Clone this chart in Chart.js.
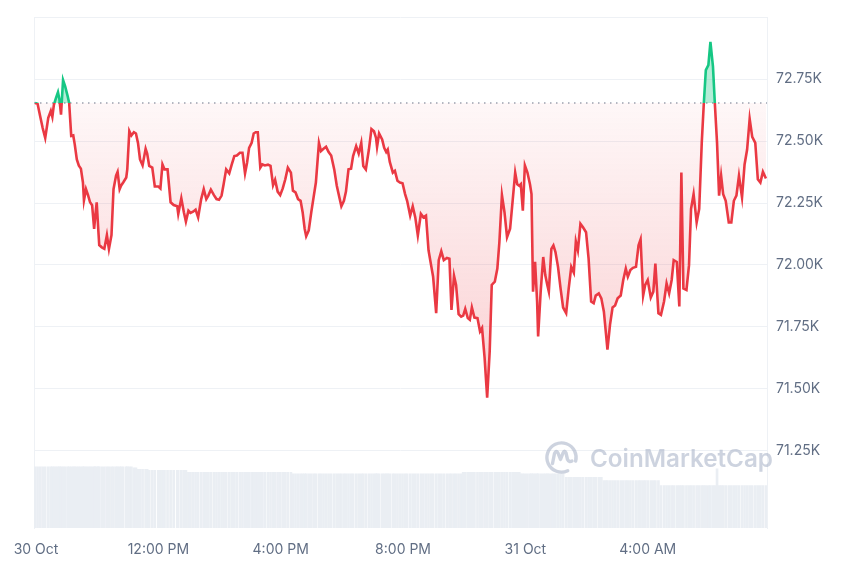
<!DOCTYPE html>
<html><head><meta charset="utf-8">
<script src="https://cdn.jsdelivr.net/npm/chart.js@4.4.1/dist/chart.umd.min.js"></script>
<style>html,body{margin:0;padding:0;background:#fff;}canvas{display:block;}</style>
</head><body>
<canvas id="c" width="860" height="573"></canvas>
<script>
// Opening price of the 24h window (dotted reference line), USD
const openPrice = 72654;

// Minutes since 30 Oct 08:00
const times = [
-2,3,8,13,18,24,29,32,35,39, 43,46,49,53,57,62,65,69,73,76,
80,84,88,92,94,98,102,106,110,114, 116,119,122,124,129,134,139,143,148,152,
157,160,164,167,171,177,179,183,187,192, 196,200,204,209,215,218,222,228,233,240,
244,248,252,258,264,270,277,279,285,290, 294,299,303,308,313,318,324,329,334,338,
343,349,354,359,364,368,373,379,384,389, 394,400,405,410,414,418,423,427,431,435,
440,444,449,455,460,465,469,474,479,
484,489,494,500,504,509,514,519,523,527, 530,535,540,545,549,555,559,564,569,574,
579,585,590,595,599,604,608,613,618,622, 628,633,638,642,647,653,658,663,667,669,
673,679,683,687,690,694,700,704,709,714, 719,
724,728,734,739,744,749,755,760,765,770, 775,779,785,790,795,800,806,811,815,820,
824,829,834,838,842,847,851,855,860,866, 871,875,880,885,890,894,900,905,909,914,
919,924,930,935,940,944,948,951,955,959, 964,969,972,
975,979,983,985,990,995,999,1003,1006,1011, 1015,1019,1024,1029,1034,1040,1045,1050,1055,1059,
1063,1068,1073,1079,1084,1089,1094,1098,1104,1109, 1114,1118,1121,1126,1131,1136,1141,1147,1152,1157,
1161,1166,1171,1177,1182,1186,
1191,1195,1200,1206,1211,1215,1221,1226,1232,1237, 1242,1247,1251,1257,1262,1266,1270,1276,1281,1285,
1290,1296,1301,1306,1310,1314,1319,1323,1328,1332, 1336,1340,1344,1348,1353,1359,1364,1369,1374,1379,
1385,1390,1395,1400,1405,1411,1416,1421,1426,1432
];

// BTC price, USD
const prices = [
72654,72651,72602,72553,72513,72594,72622,72598,72647,72674,
72698,72667,72607,72747,72722,72682,72654,72521,72523,72486,
72426,72401,72389,72333,72261,72306,72282,72253,72241,72146,
72193,72253,72146,72080,72071,72065,72120,72064,72120,72306,
72361,72376,72306,72321,72333,72353,72386,72541,72523,72536,
72531,72493,72426,72402,72469,72450,72400,72393,72317,72317,
72309,72406,72386,72386,72253,72242,72237,72206,72269,72213,
72175,72219,72210,72215,72223,72192,72266,72306,72266,72280,
72304,72282,72266,72263,72280,72326,72386,72370,72406,72440,
72442,72453,72453,72370,72413,72473,72493,72531,72536,72536,
72393,72406,72402,72405,72400,72322,72344,72296,72282,
72309,72346,72393,72373,72300,72293,72266,72259,72213,72146,
72116,72139,72213,72280,72333,72493,72460,72469,72477,72456,
72442,72386,72320,72273,72237,72259,72296,72386,72389,72440,
72480,72450,72493,72400,72386,72466,72549,72540,72513,72477,
72531,72507,72473,72456,72466,72416,72373,72380,72340,72333,
72330,
72286,72259,72199,72237,72192,72119,72206,72192,72199,72059,
71999,71952,71805,72019,72055,72019,72028,72025,71818,71956,
71919,71801,71791,71795,71822,71785,71778,71828,71787,71785,
71731,71745,71624,71464,71651,71919,71932,71985,72092,72282,
72213,72112,72146,72259,72373,72326,72320,72326,72219,72402,
72373,72326,72286,
71892,72012,71852,71711,71892,72032,71959,71919,71892,72065,
72079,72052,71992,71905,71828,71805,71905,71992,71969,72095,
72059,72166,72152,72132,72025,71852,71845,71876,71885,71865,
71811,71724,71658,71758,71828,71836,71865,71876,71939,71985,
71952,71979,71988,71992,72079,72103,
71876,71919,71939,71868,71892,72005,71805,71798,71852,71925,
71885,71939,72019,72012,71832,72373,71905,71899,71999,72226,
72286,72172,72226,72493,72651,72787,72807,72901,72801,72640,
72493,72280,72360,72286,72259,72172,72172,72259,72280,72360,
72273,72406,72466,72590,72517,72493,72346,72333,72376,72349
];

// 24h volume, billions USD (one per price point)
const volumes = [
36.0,36.0,36.0,36.0,36.0,36.0,36.0,36.0,36.0,36.0,
36.0,36.0,36.0,36.0,36.0,36.0,36.0,36.0,36.0,36.0,
36.0,36.0,36.0,36.0,36.0,36.0,36.0,36.0,36.0,36.0,
36.0,36.0,36.0,36.0,36.0,36.0,36.0,36.0,36.0,36.0,
36.0,36.0,36.0,36.0,36.0,36.0,36.0,36.0,36.0,
35.4,35.4,
34.5,34.5,34.5,34.5,34.5,
33.9,33.9,33.9,33.9,33.9,33.9,33.9,33.9,33.9,33.9,33.9,33.9,33.9,33.9,33.9,
32.7,32.7,32.7,32.7,32.7,32.7,32.7,32.7,32.7,32.7,
32.7,32.7,32.7,32.7,32.7,32.7,32.7,32.7,32.7,32.7,
32.7,32.7,32.7,32.7,32.7,32.7,32.7,32.7,32.7,32.7,
32.7,32.7,32.7,32.7,32.7,32.7,32.7,32.7,32.7,32.7,
32.7,32.7,
31.9,31.9,31.9,31.9,31.9,31.9,31.9,31.9,31.9,31.9,
31.9,31.9,31.9,31.9,31.9,31.9,31.9,31.9,31.9,31.9,
31.9,31.9,31.9,31.9,31.9,31.9,31.9,31.9,31.9,31.9,
31.9,31.9,31.9,31.9,31.9,31.9,31.9,31.9,31.9,31.9,
31.9,31.9,31.9,31.9,31.9,31.9,31.9,31.9,31.9,31.9,
31.9,31.9,31.9,31.9,31.9,31.9,31.9,31.9,31.9,31.9,
31.9,31.9,31.9,31.9,31.9,31.9,31.9,31.9,31.9,31.9,
32.7,32.7,32.7,32.7,32.7,32.7,32.7,32.7,32.7,32.7,
32.7,32.7,32.7,32.7,32.7,32.7,32.7,32.7,32.7,32.7,
32.7,32.7,32.7,32.7,
31.9,31.9,31.9,31.9,31.9,31.9,31.9,31.9,31.9,31.9,
31.9,31.9,31.9,31.9,31.9,31.9,31.9,31.9,31.9,31.9,31.9,
29.8,29.8,29.8,29.8,29.8,29.8,29.8,29.8,29.8,29.8,29.8,29.8,29.8,29.8,29.8,
27.8,27.8,27.8,27.8,27.8,27.8,27.8,27.8,27.8,27.8,
27.8,27.8,27.8,27.8,27.8,27.8,27.8,27.8,27.8,27.8,27.8,27.8,27.8,
24.9,24.9,24.9,24.9,24.9,24.9,24.9,24.9,24.9,24.9,
24.9,24.9,24.9,24.9,24.9,24.9,24.9,24.9,24.9,24.9,24.9,24.9,24.9,
34.8,
24.9,24.9,24.9,24.9,24.9,24.9,24.9,24.9,24.9,24.9,
24.9,24.9,24.9,24.9,24.9,24.9,24.9,24.9,24.9
];

const xTickMinutes = [0, 240, 480, 720, 960, 1200];
const xTickLabels = ['30 Oct', '12:00 PM', '4:00 PM', '8:00 PM', '31 Oct', '4:00 AM'];
const yTickValues = [71250, 71500, 71750, 72000, 72250, 72500, 72750, 73000];
const yTickLabels = ['71.25K', '71.50K', '71.75K', '72.00K', '72.25K', '72.50K', '72.75K', ''];
const xRange = [-4, 1434];
const yRange = [70937, 73000];
const volumeMax = 300;

const RED = '#ea3943', GREEN = '#16c784';
const TICK_COLOR = '#616e84';
const GRID = '#eef1f5';
const FONT = 'Inter, "Noto Sans", sans-serif';

function frac(chart, value) {
  const a = chart.chartArea;
  const p = chart.scales.y.getPixelForValue(value);
  return Math.min(1, Math.max(0, (p - a.top) / (a.bottom - a.top)));
}

function lineColor(ctx) {
  const chart = ctx.chart;
  const a = chart.chartArea;
  if (!a || !chart.scales.y) return RED;
  const f = frac(chart, openPrice);
  const g = chart.ctx.createLinearGradient(0, a.top, 0, a.bottom);
  g.addColorStop(0, GREEN);
  g.addColorStop(f, GREEN);
  g.addColorStop(Math.min(1, f + 0.0001), RED);
  g.addColorStop(1, RED);
  return g;
}

function fillColor(ctx) {
  const chart = ctx.chart;
  const a = chart.chartArea;
  if (!a || !chart.scales.y) return 'rgba(234,57,67,0.08)';
  const f = frac(chart, openPrice);
  const fm = Math.max(f + 0.001, frac(chart, Math.min(...prices)));
  const g = chart.ctx.createLinearGradient(0, a.top, 0, a.bottom);
  g.addColorStop(0, 'rgba(22,199,132,0.32)');
  g.addColorStop(f, 'rgba(22,199,132,0.32)');
  g.addColorStop(Math.min(1, f + 0.0001), 'rgba(234,57,67,0.04)');
  g.addColorStop(Math.min(1, fm), 'rgba(234,57,67,0.24)');
  g.addColorStop(1, 'rgba(234,57,67,0.24)');
  return g;
}

const watermark = {
  id: 'watermark',
  afterDatasetsDraw(chart) {
    const { ctx, chartArea: a } = chart;
    ctx.save();
    const col = 'rgba(168,180,200,0.58)';
    const cx = a.right - 205.5, cy = a.bottom - 70.5;
    ctx.strokeStyle = col;
    ctx.lineWidth = 3.4;
    ctx.lineCap = 'round';
    ctx.lineJoin = 'round';
    ctx.beginPath();
    ctx.arc(cx, cy, 14.6, 0.36 * Math.PI, 2.08 * Math.PI);
    ctx.stroke();
    ctx.beginPath();
    ctx.moveTo(cx - 9, cy + 6);
    ctx.lineTo(cx - 7, cy - 4);
    ctx.quadraticCurveTo(cx - 5.5, cy - 8, cx - 3.5, cy - 4.5);
    ctx.lineTo(cx - 1, cy + 2);
    ctx.lineTo(cx + 1.5, cy - 4.5);
    ctx.quadraticCurveTo(cx + 3, cy - 8, cx + 4.5, cy - 4.5);
    ctx.lineTo(cx + 6, cy + 2);
    ctx.quadraticCurveTo(cx + 7.5, cy + 5, cx + 10.5, cy + 3.5);
    ctx.stroke();
    ctx.fillStyle = col;
    let size = 23;
    ctx.font = '600 ' + size + 'px ' + FONT;
    const w = ctx.measureText('CoinMarketCap').width;
    size = size * 183 / w;
    ctx.font = '600 ' + size.toFixed(2) + 'px ' + FONT;
    ctx.textBaseline = 'alphabetic';
    ctx.fillText('CoinMarketCap', a.right - 177, a.bottom - 61);
    ctx.restore();
  }
};

new Chart(document.getElementById('c'), {
  type: 'line',
  data: {
    datasets: [
      {
        label: 'Price',
        data: times.map((t, i) => ({ x: t, y: prices[i] })),
        borderColor: lineColor,
        backgroundColor: fillColor,
        borderWidth: 2.6,
        fill: { target: { value: openPrice } },
        pointRadius: 0,
        tension: 0,
        order: 0,
        yAxisID: 'y'
      },
      {
        label: 'Open',
        data: [{ x: xRange[0], y: openPrice }, { x: xRange[1], y: openPrice }],
        borderColor: '#9aa2b0',
        borderWidth: 1.5,
        borderDash: [1.5, 4.5],
        pointRadius: 0,
        fill: false,
        order: 1,
        yAxisID: 'y'
      },
      {
        type: 'bar',
        label: 'Volume',
        data: times.map((t, i) => ({ x: t, y: volumes[i] })),
        backgroundColor: '#eaeef3',
        borderWidth: 0,
        barThickness: 2,
        order: 2,
        yAxisID: 'yv'
      }
    ]
  },
  options: {
    responsive: false,
    animation: false,
    devicePixelRatio: 1,
    layout: { padding: { top: 14, left: 34, right: 0, bottom: 0 } },
    plugins: { legend: { display: false }, tooltip: { enabled: false } },
    scales: {
      x: {
        type: 'linear',
        min: xRange[0],
        max: xRange[1],
        offset: false,
        grid: { display: false, drawTicks: false },
        border: { display: false },
        afterBuildTicks: s => { s.ticks = xTickMinutes.map(v => ({ value: v })); },
        ticks: {
          autoSkip: false, maxRotation: 0, padding: 13,
          color: TICK_COLOR, font: { family: FONT, size: 14 },
          callback: v => { const i = xTickMinutes.indexOf(v); return i >= 0 ? xTickLabels[i] : ''; }
        },
        afterFit: s => { s.height = 45; }
      },
      y: {
        position: 'right',
        min: yRange[0],
        max: yRange[1],
        afterBuildTicks: s => { s.ticks = yTickValues.map(v => ({ value: v })); },
        grid: { color: GRID, drawTicks: false, lineWidth: 1 },
        border: { display: true, color: GRID },
        ticks: {
          padding: 9, color: TICK_COLOR, font: { family: FONT, size: 14 },
          callback: v => { const i = yTickValues.indexOf(v); return i >= 0 ? yTickLabels[i] : ''; }
        },
        afterFit: s => { s.width = 93; }
      },
      yv: {
        position: 'left',
        min: 0,
        max: volumeMax,
        grid: { display: false, drawTicks: false },
        border: { display: true, color: GRID },
        ticks: { display: false },
        afterFit: s => { s.width = 0; }
      }
    }
  },
  plugins: [watermark]
});
</script>
</body></html>
